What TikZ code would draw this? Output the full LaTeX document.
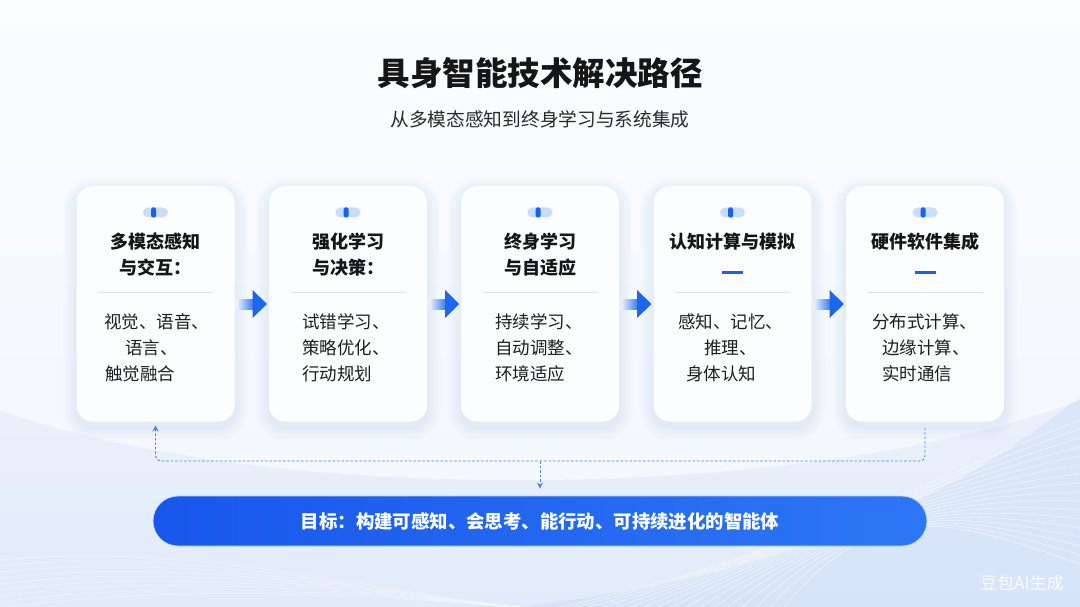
\documentclass[tikz,border=0pt]{standalone}
\usepackage{fontspec}
\setmainfont{Noto Sans CJK SC}
\usetikzlibrary{arrows.meta,calc}
\definecolor{bgtop}{HTML}{F9FBFE}
\definecolor{bgbot}{HTML}{E2EBF9}
\definecolor{bgblue}{HTML}{CFE0F8}
\definecolor{titlec}{HTML}{161616}
\definecolor{subc}{HTML}{2A2A2A}
\definecolor{bodyc}{HTML}{1E1E1E}
\definecolor{pillc}{HTML}{CADDF8}
\definecolor{mainblue}{HTML}{1A62EE}
\definecolor{arrowblue}{HTML}{1D66F0}
\definecolor{sepc}{HTML}{DDE2EA}
\definecolor{shadowc}{HTML}{A9C2EA}
\definecolor{dashc}{HTML}{4A86EA}
\definecolor{goall}{HTML}{1957EC}
\definecolor{goalr}{HTML}{2D77F5}
\tikzset{
  cardbox/.style={rounded corners=16pt, minimum width=157pt, minimum height=234pt,
    inner sep=0pt, fill=white, fill opacity=0.92, draw=white, line width=1pt},
  ctitle/.style={font=\bfseries\fontsize{18}{20}\selectfont, text=titlec, inner sep=0pt},
  cbody/.style={font=\fontsize{17.5}{20}\selectfont, text=bodyc, anchor=west, inner sep=0pt},
  feedback/.style={draw=dashc, dash pattern=on 2.5pt off 2pt, line width=0.9pt, rounded corners=5pt},
  goalbar/.style={rounded corners=25pt, minimum width=774pt, minimum height=50pt,
    left color=goall, right color=goalr, draw=white!70!goalr, line width=0.8pt,
    text=white, font=\bfseries\fontsize{18.4}{20}\selectfont},
  pill/.style={fill=pillc, rounded corners=5pt},
  pillbar/.style={fill=mainblue, rounded corners=1.5pt},
}
\begin{document}
\begin{tikzpicture}[x=1pt,y=-1pt]
\useasboundingbox (0,0) rectangle (1080,607);
% background
\shade[top color=bgtop, bottom color=bgbot] (0,0) rectangle (1080,607);
\fill[bgblue, opacity=0.55] (520,607) .. controls (780,575) and (960,500) .. (1080,395) -- (1080,607) -- cycle;
\fill[white, opacity=0.55] (0,0) -- (1080,0) -- (1080,400) .. controls (820,500) and (280,510) .. (0,410) -- cycle;
\foreach \i in {0,...,16}{
  \draw[white, opacity=0.6, line width=0.6pt]
    (560+\i*14, 607) .. controls (780+\i*6, 560-\i*4) and (950, 470+\i*3) .. (1080, 420+\i*9);
}
\foreach \i in {0,...,8}{
  \draw[white, opacity=0.45, line width=0.5pt]
    (0, 560+\i*6) .. controls (200, 540+\i*5) and (420, 600) .. (520, 607);
}
% title
\node[font=\bfseries\fontsize{32.5}{34}\selectfont, text=titlec] (title) at (540,73) {具身智能技术解决路径};
\node[font=\fontsize{18.7}{20}\selectfont, text=subc] (sub) at (540,119) {从多模态感知到终身学习与系统集成};
% card shadows
\foreach \cx in {155.5,348,540,732.5,925}{
  \foreach \s in {2,4,...,14}{
    \pgfmathsetmacro\rr{16+\s}
    \fill[shadowc, opacity=0.03, rounded corners=\rr pt]
      (\cx-78.5-\s, 187-\s+5) rectangle (\cx+78.5+\s, 421+\s+5);
  }
}
% cards
\node[cardbox] (c1) at (155.5,304) {};
\node[cardbox] (c2) at (348,304) {};
\node[cardbox] (c3) at (540,304) {};
\node[cardbox] (c4) at (732.5,304) {};
\node[cardbox] (c5) at (925,304) {};
% pills and separators
\foreach \c in {c1,c2,c3,c4,c5}{
  \fill[pill] ($(\c.north)+(-12.5,21)$) rectangle ($(\c.north)+(12.5,31)$);
  \fill[pillbar] ($(\c.north)+(-4.5,21)$) rectangle ($(\c.north)+(0.5,31)$);
  \draw[sepc, line width=0.8pt] ($(\c.north)+(-57.5,106)$) -- ($(\c.north)+(57.5,106)$);
}
% titles
\node[ctitle] (t1a) at (155.5,242) {多模态感知};
\node[ctitle] (t1b) at (155.5,268) {与交互：};
\node[ctitle] (t2a) at (348,242) {强化学习};
\node[ctitle] (t2b) at (348,268) {与决策：};
\node[ctitle] (t3a) at (540,242) {终身学习};
\node[ctitle] (t3b) at (540,268) {与自适应};
\node[ctitle] (t4a) at (732.5,242) {认知计算与模拟};
\node[ctitle] (t5a) at (925,242) {硬件软件集成};
\fill[mainblue] (722,270.5) rectangle (743,273.5);
\fill[mainblue] (914.5,270.5) rectangle (935.5,273.5);
% body
\node[cbody] (b1a) at (104,322) {视觉、语音、};
\node[cbody] (b1b) at (125,348) {语言、};
\node[cbody] (b1c) at (105,374) {触觉融合};
\node[cbody] (b2a) at (302,322) {试错学习、};
\node[cbody] (b2b) at (302,348) {策略优化、};
\node[cbody] (b2c) at (302,374) {行动规划};
\node[cbody] (b3a) at (495,322) {持续学习、};
\node[cbody] (b3b) at (495,348) {自动调整、};
\node[cbody] (b3c) at (495,374) {环境适应};
\node[cbody] (b4a) at (678,322) {感知、记忆、};
\node[cbody] (b4b) at (704,348) {推理、};
\node[cbody] (b4c) at (686,374) {身体认知};
\node[cbody] (b5a) at (872,322) {分布式计算、};
\node[cbody] (b5b) at (882,348) {边缘计算、};
\node[cbody] (b5c) at (882,374) {实时通信};
% arrows between cards
\foreach \a/\b in {c1/c2,c2/c3,c3/c4,c4/c5}{
  \shade[left color=arrowblue!8, right color=arrowblue!85]
    ($(\a.east)+(2,-4.5)$) rectangle ($(\a.east)+(18.5,5.5)$);
  \fill[arrowblue] ($(\a.east)+(18,-14)$) -- ($(\b.west)+(-2,0)$) -- ($(\a.east)+(18,14)$) -- cycle;
}
% goal bar
\node[goalbar] (goal) at (540,521) {目标：构建可感知、会思考、能行动、可持续进化的智能体};
% feedback connectors
\coordinate (mid) at (540,461);
\draw[feedback, -{Stealth[length=6pt,width=6pt]}]
  ($(c5.south)+(0,6)$) |- (mid) -| ($(c1.south)+(0,4)$);
\draw[feedback, rounded corners=0pt, -{Stealth[length=6pt,width=6pt]}]
  (mid) -- ($(goal.north)+(0,-7)$);
% watermark
\node[font=\fontsize{17}{20}\selectfont, text=white, opacity=0.85] (wm) at (1022,583) {豆包AI生成};
\end{tikzpicture}
\end{document}
